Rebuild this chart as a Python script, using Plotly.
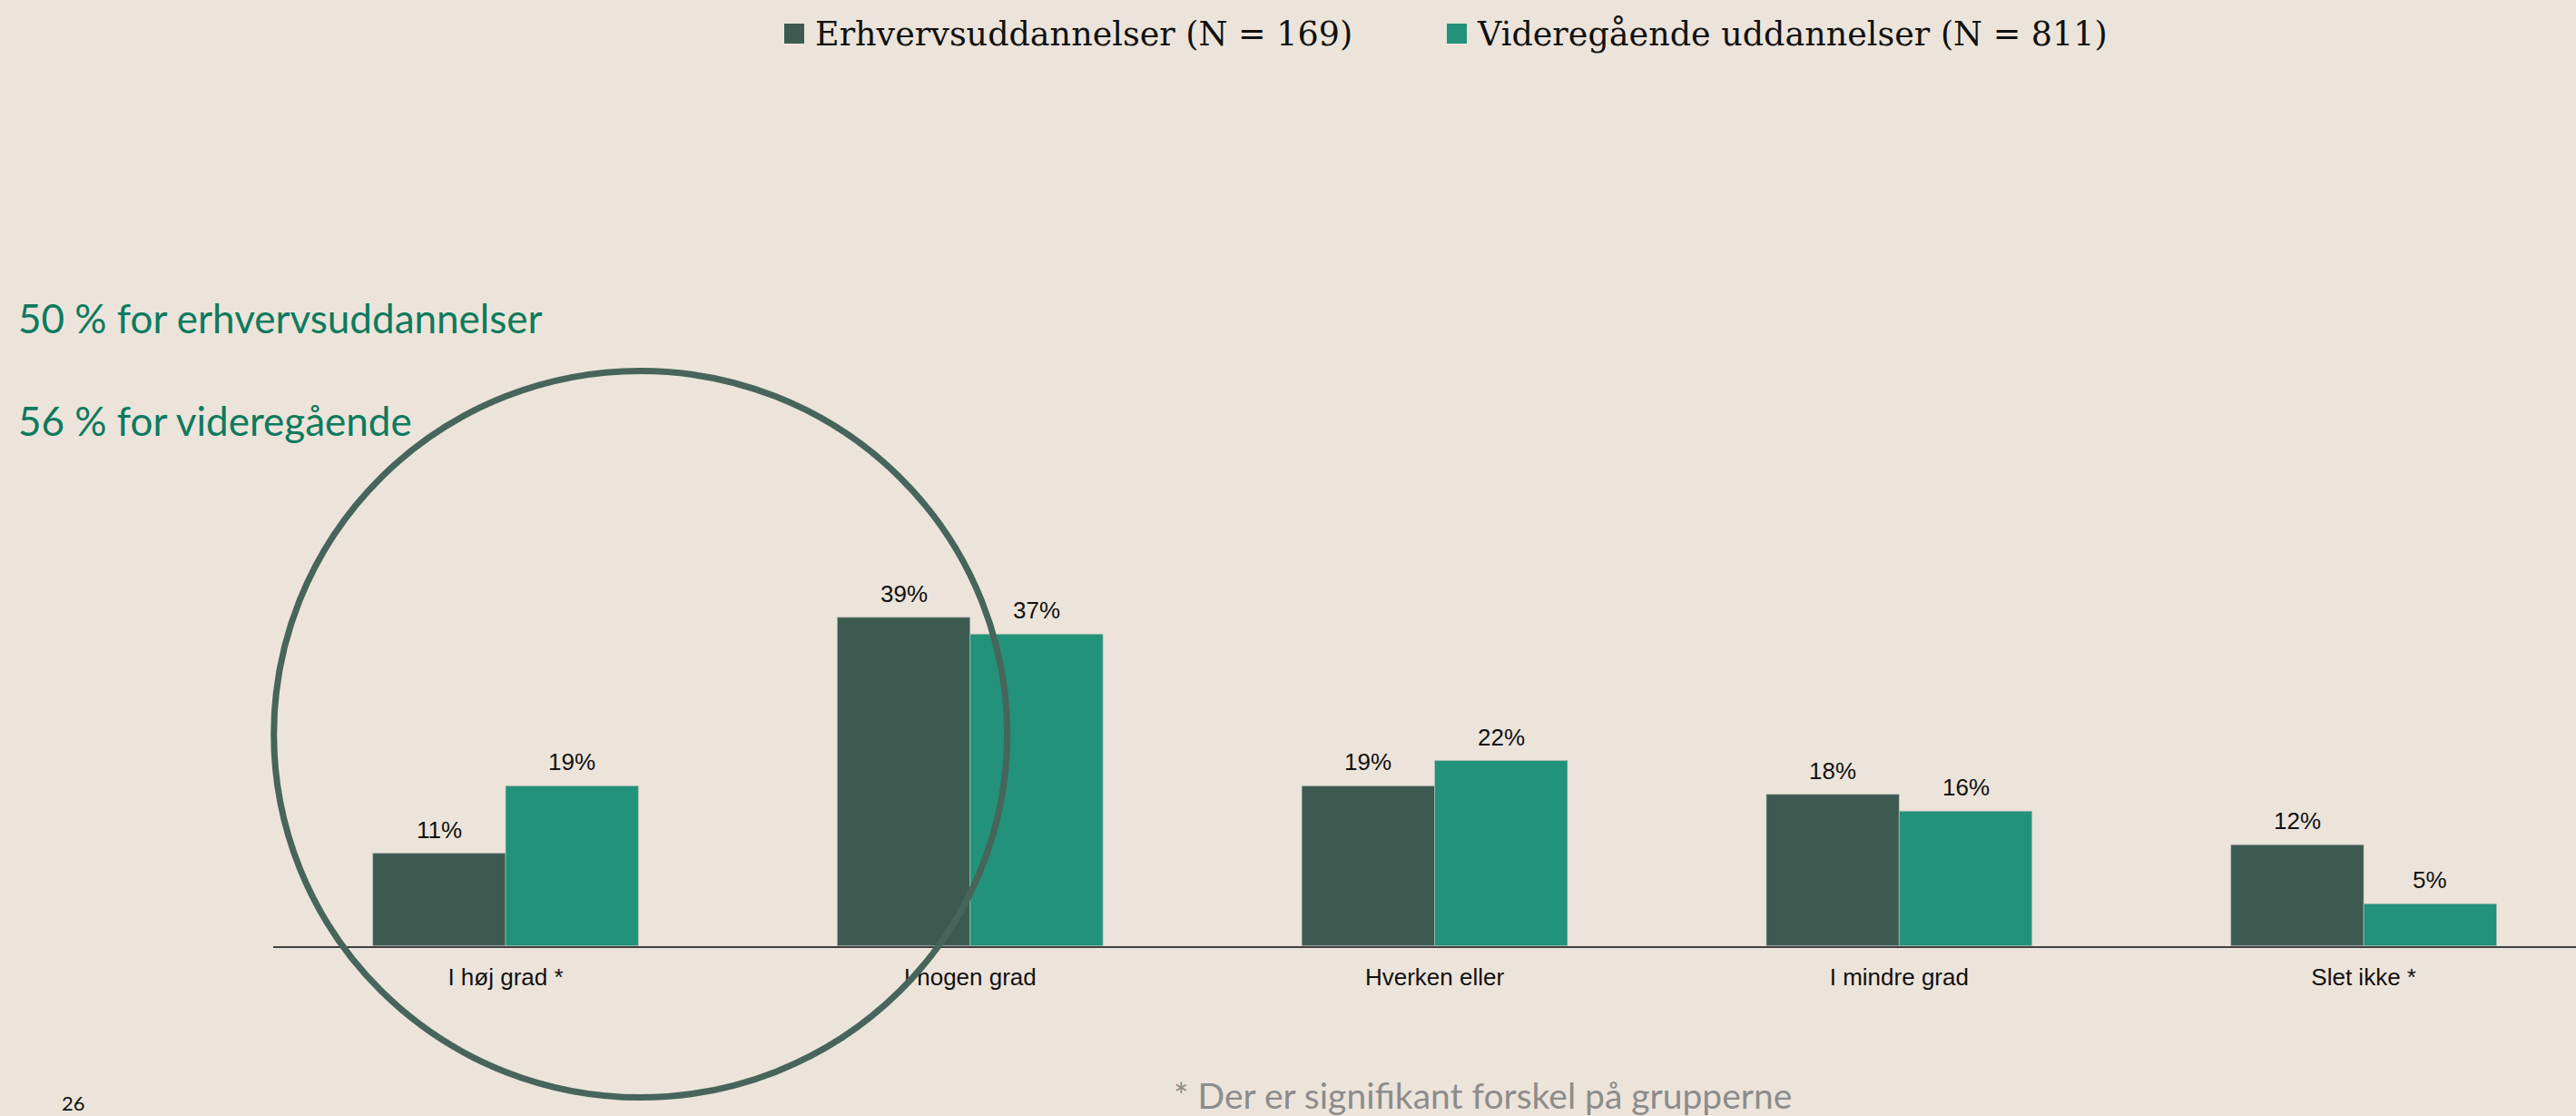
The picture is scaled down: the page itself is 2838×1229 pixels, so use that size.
import plotly.graph_objects as go

categories = ["I høj grad *", "I nogen grad", "Hverken eller", "I mindre grad", "Slet ikke *"]
erhverv = [11, 39, 19, 18, 12]
videregaaende = [19, 37, 22, 16, 5]
series_names = ["Erhvervsuddannelser (N = 169)", "Videregående uddannelser (N = 811)"]
side_notes = ["50 % for erhvervsuddannelser", "56 % for videregående"]
footnote = "* Der er signifikant forskel på grupperne"
page_no = "26"

W, H = 2838, 1229
BG = "#ECE4DA"
DARK = "#3D5A50"
TEAL = "#22927A"
CIRCLE = "#47655A"
LABEL_FONT = "Liberation Sans, Arial, sans-serif"
SIDE_FONT = "Lato, Noto Sans, sans-serif"
SERIF = "DejaVu Serif, Georgia, serif"

fig = go.Figure()
for name, vals, col in [(series_names[0], erhverv, DARK), (series_names[1], videregaaende, TEAL)]:
    fig.add_trace(go.Bar(
        x=categories, y=vals, name=name, showlegend=False,
        marker=dict(color=col, line=dict(color="rgba(190,195,190,0.6)", width=1)),
        hoverinfo="x+y+name",
    ))

annotations = []
# value labels above bars
for i in range(len(categories)):
    for vals, off in [(erhverv, -0.143), (videregaaende, 0.143)]:
        annotations.append(dict(
            x=i + off, y=vals[i], xref="x", yref="y", text=f"{vals[i]}%",
            showarrow=False, yanchor="middle", yshift=26,
            font=dict(family=LABEL_FONT, size=26, color="#111111"),
        ))

# custom legend
legend_pos = [(864, 896), (1594, 1625)]
shapes = []
for (sx, tx), name, col in zip(legend_pos, series_names, [DARK, TEAL]):
    shapes.append(dict(type="rect", xref="paper", yref="paper",
                       x0=sx / W, x1=(sx + 22) / W, y0=1 - 48 / H, y1=1 - 26 / H,
                       fillcolor=col, line=dict(width=0)))
    annotations.append(dict(x=tx / W, y=1 - 37 / H, xref="paper", yref="paper",
                            text=name, showarrow=False, xanchor="left", yanchor="middle",
                            font=dict(family=SERIF, size=36.5, color="#111111")))

# side notes
for txt, yc in zip(side_notes, [350, 463]):
    annotations.append(dict(x=18 / W, y=1 - yc / H, xref="paper", yref="paper",
                            text=txt, showarrow=False, xanchor="left", yanchor="middle",
                            font=dict(family=SIDE_FONT, size=44, color="#0E7A5E")))

annotations.append(dict(x=1291 / W, y=1 - 1206 / H, xref="paper", yref="paper",
                        text=footnote, showarrow=False, xanchor="left", yanchor="middle",
                        font=dict(family=SIDE_FONT, size=39, color="#8C8C8C")))
annotations.append(dict(x=66 / W, y=1 - 1214 / H, xref="paper", yref="paper",
                        text=page_no, showarrow=False, xanchor="left", yanchor="middle",
                        font=dict(family=SIDE_FONT, size=22, color="#111111")))

# highlight circle
cx, cy, rx, ry = 705.7, 808.5, 404, 400
shapes.append(dict(type="circle", xref="paper", yref="paper", layer="above",
                   x0=(cx - rx) / W, x1=(cx + rx) / W,
                   y0=1 - (cy + ry) / H, y1=1 - (cy - ry) / H,
                   line=dict(color=CIRCLE, width=7)))

axis_y = 1041.7
px_per_pct = 9.28
fig.update_layout(
    width=W, height=H,
    paper_bgcolor=BG, plot_bgcolor=BG,
    margin=dict(l=0, r=0, t=0, b=0),
    barmode="group", bargap=0.428, bargroupgap=0,
    showlegend=False,
    xaxis=dict(
        domain=[301.1 / W, 1], range=[-0.5, 4.457],
        showline=True, linecolor="#404040", linewidth=2,
        showgrid=False, zeroline=False,
        ticks="outside", ticklen=10, tickcolor="rgba(0,0,0,0)",
        tickfont=dict(family=LABEL_FONT, size=26, color="#111111"),
    ),
    yaxis=dict(
        domain=[(H - axis_y) / H, 1], range=[0, axis_y / px_per_pct],
        visible=False,
    ),
    annotations=annotations,
    shapes=shapes,
)

fig.write_html("out.html", config={"displayModeBar": False},
               post_script="document.body.style.margin='0';")
